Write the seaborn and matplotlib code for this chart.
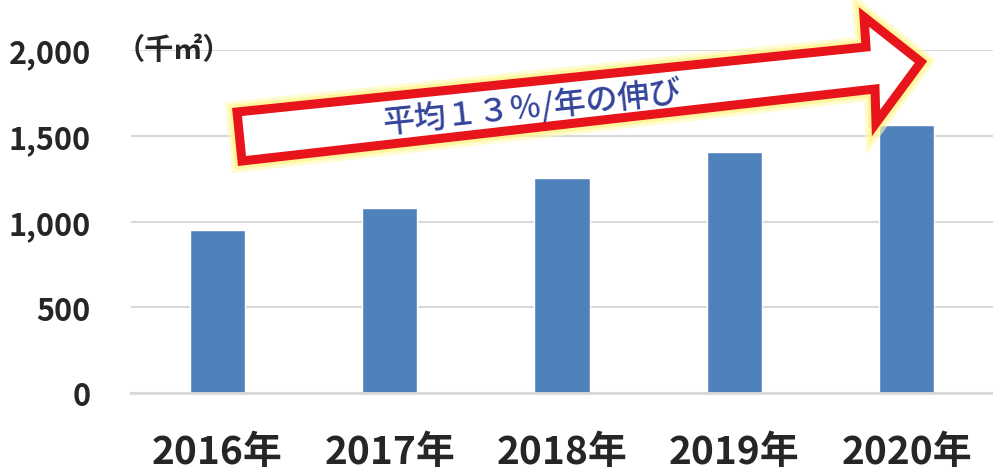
import numpy as np
import pandas as pd
import matplotlib
matplotlib.use('Agg')
import matplotlib.pyplot as plt
import matplotlib.patheffects as pe
from matplotlib.patches import Polygon
import seaborn as sns

years = ['2016年', '2017年', '2018年', '2019年', '2020年']
area = [950, 1080, 1255, 1405, 1560]
y_ticks = [0, 500, 1000, 1500, 2000]
y_labels = ['0', '500', '1,000', '1,500', '2,000']
unit_label = '（千㎡）'
arrow_text = '平均１３％/年の伸び'

sns.set_style('white')
plt.rcParams['font.family'] = ['Noto Sans CJK JP', 'DejaVu Sans']

W, H = 993, 477
fig = plt.figure(figsize=(W / 100, H / 100), dpi=100)
ax = fig.add_axes([131 / W, 1 - 394 / H, (993 - 131) / W, (394 - 51) / H])

df = pd.DataFrame({'year': years, 'area': area})
sns.barplot(data=df, x='year', y='area', color='#4f81bd', saturation=1,
            width=0.32, ax=ax)

ax.set_ylim(0, 2000)
ax.set_yticks(y_ticks)
ax.set_yticklabels(y_labels, fontsize=22, fontweight='bold')
ax.tick_params(axis='y', length=0, pad=29)
ax.tick_params(axis='x', length=0, pad=28)
for lab in ax.get_xticklabels():
    lab.set_fontsize(28)
    lab.set_fontweight('bold')
ax.set_xlabel('')
ax.set_ylabel('')
ax.yaxis.grid(True, color='#d9d9d9', linewidth=1.5)
ax.set_axisbelow(True)
for s in ['left', 'right', 'top']:
    ax.spines[s].set_visible(False)
ax.spines['bottom'].set_color('#d9d9d9')
ax.spines['bottom'].set_linewidth(2)

# unit label
fig.text(116 / W, 1 - 50 / H, unit_label, fontsize=21, fontweight='bold',
         ha='left', va='center')

# growth arrow (annotation shape in pixel coordinates)
pts = [(237, 113), (866, 48), (864, 18), (921, 63), (876, 124), (875, 90), (242, 162)]
pts = [(x / W, 1 - y / H) for x, y in pts]
arrow = Polygon(pts, closed=True, transform=fig.transFigure, facecolor='white',
                edgecolor='#e8141b', linewidth=6.5, joinstyle='miter', zorder=5)
arrow.set_path_effects([
    pe.Stroke(linewidth=16, foreground='#fffbb0', alpha=0.6),
    pe.Stroke(linewidth=11, foreground='#fff27a', alpha=0.6),
    pe.Normal(),
])
fig.patches.append(arrow)

fig.text(532 / W, 1 - 108 / H, arrow_text, fontsize=23, fontweight='medium',
         color='#34449a', rotation=6, ha='center', va='center', zorder=6)

fig.savefig('out.png', dpi=100)
